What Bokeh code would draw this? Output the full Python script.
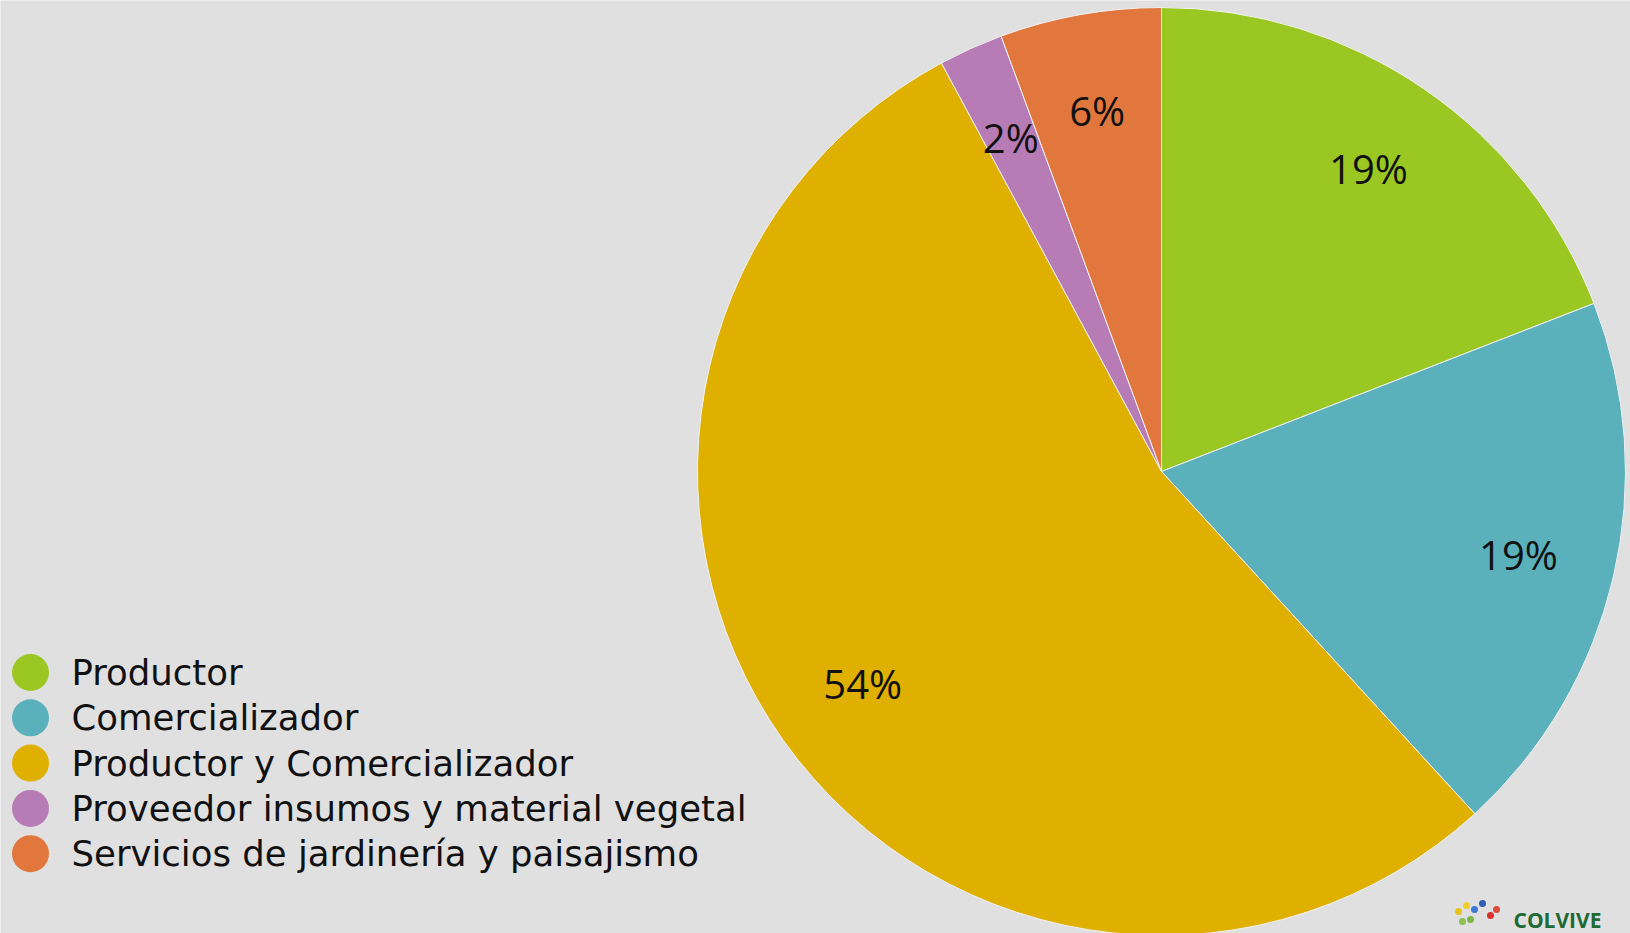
import math
from bokeh.plotting import figure
from bokeh.models import ColumnDataSource
from bokeh.core.properties import value
from bokeh.embed import file_html
from bokeh.resources import INLINE

# ---- data ----
categories = ["Productor", "Comercializador", "Productor y Comercializador",
              "Proveedor insumos y material vegetal", "Servicios de jardinería y paisajismo"]
counts = [17, 17, 48, 2, 5]
colors = ["#9bc723", "#5ab1bb", "#dfb000", "#b77bb6", "#e1773d"]

# ---- layout ----
W, H = 1630, 933
BG = "#e0e0e0"
cx, cy = 1161, H - 471
R = 464

total = sum(counts)
fracs = [c / total for c in counts]
starts, ends, lx, ly, labels = [], [], [], [], []
acc = 0.0
for f in fracs:
    a0 = math.pi / 2 - 2 * math.pi * acc
    a1 = math.pi / 2 - 2 * math.pi * (acc + f)
    starts.append(a0)
    ends.append(a1)
    mid = (a0 + a1) / 2
    lx.append(cx + 0.79 * R * math.cos(mid))
    ly.append(cy + 0.79 * R * math.sin(mid))
    labels.append(f"{round(f * 100)}%")
    acc += f

src = ColumnDataSource(dict(cat=categories, start=starts, end=ends, color=colors,
                            lx=lx, ly=ly, label=labels))

p = figure(width=W, height=H, x_range=(0, W), y_range=(0, H),
           output_backend="svg", toolbar_location=None, min_border=0)
p.axis.visible = False
p.grid.visible = False
p.outline_line_color = None
p.background_fill_color = BG
p.border_fill_color = BG

p.wedge(x=cx, y=cy, radius=R, start_angle="start", end_angle="end", direction="clock",
        fill_color="color", line_color="#f2f2f2", line_width=1, source=src)

p.text(x="lx", y="ly", text="label", source=src, text_align="center",
       text_baseline="middle", text_font=value("Open Sans"), text_font_size="40px",
       text_color="#111111")

# legend
row0 = H - 672
step = 45.3
leg_y = [row0 - i * step for i in range(len(categories))]
leg = ColumnDataSource(dict(y=leg_y, x=[30] * len(categories), tx=[71] * len(categories),
                            cat=categories, color=colors))
p.scatter(x="x", y="y", size=37, marker="circle", fill_color="color", line_color=None, source=leg)
p.text(x="tx", y="y", text="cat", source=leg, text_baseline="middle",
       text_font=value("DejaVu Sans"), text_font_size="35.5px", text_color="#111111")

# logo
p.text(x=[1513], y=[14], text=["COLVIVE"], text_baseline="alphabetic",
       text_font=value("Open Sans"), text_font_style="bold", text_font_size="21px",
       text_color="#1d6a34")
p.scatter(x=[1458, 1466, 1474, 1482, 1490, 1470, 1496, 1462],
          y=[22, 28, 24, 30, 18, 14, 24, 12], size=7,
          fill_color=["#e8c21c", "#f0d030", "#3a7bd5", "#2f5fb3", "#d9312b",
                      "#7ab648", "#e04a3a", "#8cc152"],
          line_color=None)

open("out.html", "w").write(file_html(p, INLINE))
